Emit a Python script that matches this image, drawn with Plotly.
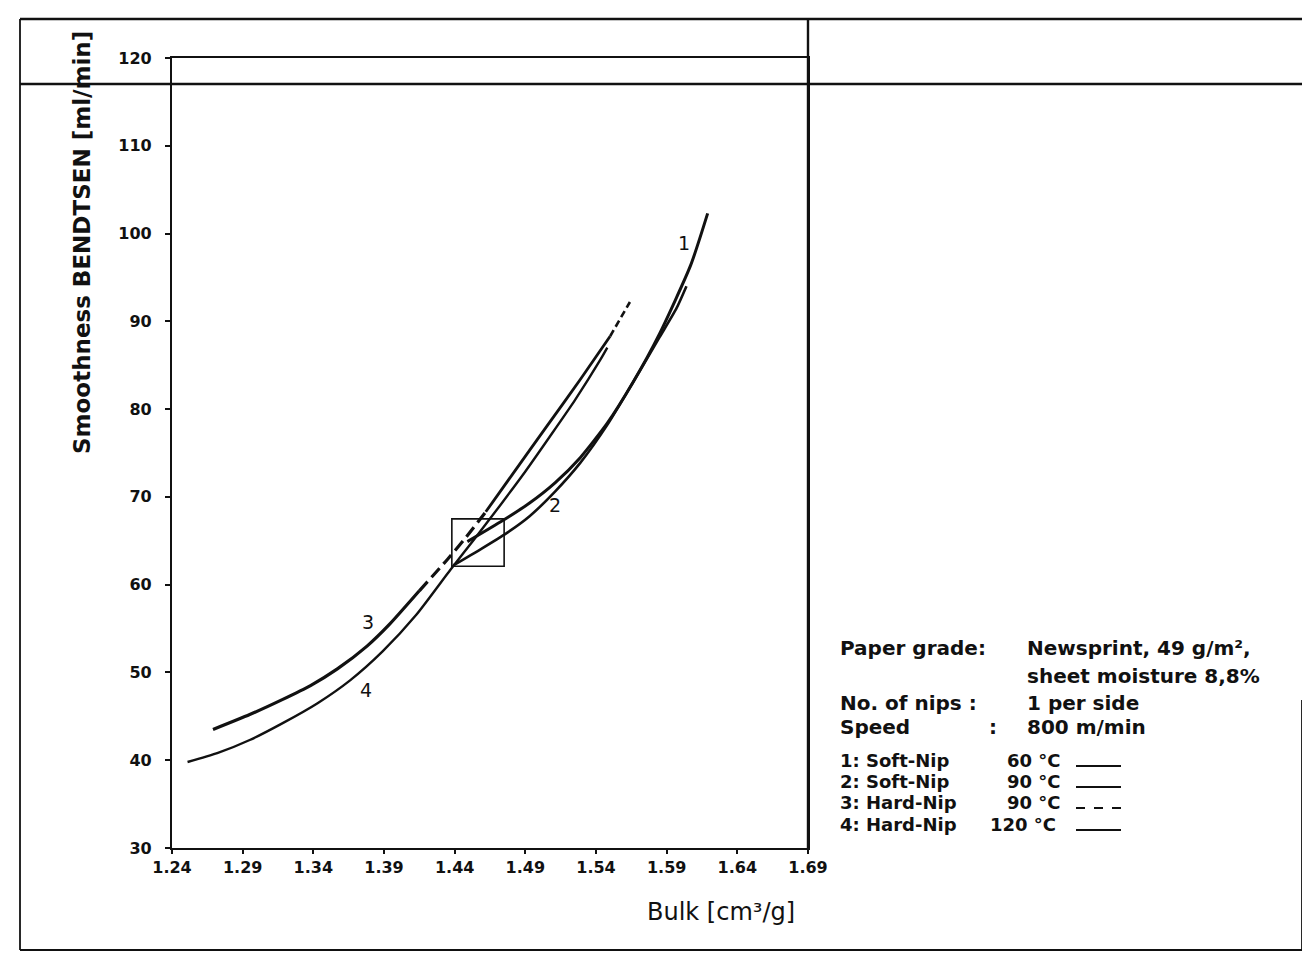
import plotly.graph_objects as go

# ---------------- data ----------------
x_ticks = [1.24, 1.29, 1.34, 1.39, 1.44, 1.49, 1.54, 1.59, 1.64, 1.69]
y_ticks = [30, 40, 50, 60, 70, 80, 90, 100, 110, 120]

# 1: Soft-Nip 60 °C
bulk_1 = [1.449, 1.474, 1.493, 1.511, 1.529, 1.548, 1.566, 1.585, 1.607, 1.619]
smooth_1 = [64.9, 67.3, 69.3, 71.6, 74.5, 78.4, 83.0, 88.6, 96.4, 102.3]

# 2: Soft-Nip 90 °C
bulk_2 = [1.439, 1.458, 1.477, 1.493, 1.511, 1.529, 1.548, 1.566, 1.585, 1.597, 1.604]
smooth_2 = [62.2, 64.0, 65.9, 67.8, 70.6, 73.9, 78.2, 83.0, 88.2, 91.5, 94.0]

# 3: Hard-Nip 90 °C
bulk_3 = [1.269, 1.295, 1.318, 1.338, 1.357, 1.378, 1.394, 1.415, 1.435,
          1.448, 1.462, 1.481, 1.505, 1.529, 1.550, 1.564]
smooth_3 = [43.5, 45.2, 46.9, 48.5, 50.4, 53.0, 55.5, 59.3, 62.9,
            65.4, 68.3, 72.6, 78.0, 83.4, 88.3, 92.2]

# 4: Hard-Nip 120 °C
bulk_4 = [1.251, 1.272, 1.295, 1.318, 1.343, 1.366, 1.389, 1.413, 1.437,
          1.454, 1.472, 1.490, 1.507, 1.525, 1.543, 1.548]
smooth_4 = [39.8, 40.8, 42.3, 44.2, 46.5, 49.1, 52.4, 56.6, 61.7,
            65.2, 69.0, 72.9, 76.8, 81.0, 85.6, 87.0]

curve_names = ["1", "2", "3", "4"]
label_bulk = [1.602, 1.511, 1.379, 1.377]
label_smooth = [98.9, 69.1, 55.7, 48.0]

box_bulk = [1.438, 1.475]
box_smooth = [62.1, 67.5]

# ---------------- layout helpers ----------------
OFF = 8                      # page body margin of the html page
W, H = 1310 - OFF, 964 - OFF
L, R, T, B = 172, 808, 58, 848   # plot area in screen pixels


def px(xpix):
    return (xpix - L) / (R - L)


def py(ypix):
    return (B - ypix) / (B - T)


INK = "#111111"
FONT = "DejaVu Sans, Verdana, sans-serif"

fig = go.Figure()

widths = [3.0, 2.6, 3.2, 2.4]
series = [(bulk_1, smooth_1), (bulk_2, smooth_2), (bulk_3, smooth_3), (bulk_4, smooth_4)]


def add_line(xs, ys, w, dash="solid"):
    fig.add_trace(go.Scatter(
        x=xs, y=ys, mode="lines", showlegend=False,
        line=dict(color=INK, width=w, dash=dash, shape="spline", smoothing=0.6),
        hoverinfo="skip"))


# curves 1, 2, 4 solid
for i in (0, 1, 3):
    add_line(series[i][0], series[i][1], widths[i])

# curve 3: mostly solid with dashed stretches (as printed)
add_line(bulk_3[:8], smooth_3[:8], widths[2])
add_line(bulk_3[7:11], smooth_3[7:11], widths[2], "12px,6px")
add_line(bulk_3[10:15], smooth_3[10:15], widths[2] - 0.4)
add_line(bulk_3[14:], smooth_3[14:], widths[2] - 0.6, "7px,4px")

for name, xv, yv in zip(curve_names, label_bulk, label_smooth):
    fig.add_annotation(x=xv, y=yv, text=name, showarrow=False,
                       font=dict(family=FONT, size=19, color=INK))

# rectangle around operating point
fig.add_shape(type="rect", xref="x", yref="y",
              x0=box_bulk[0], x1=box_bulk[1], y0=box_smooth[0], y1=box_smooth[1],
              line=dict(color=INK, width=1.6))

# ---------------- frame lines (scanned page border) ----------------
def hline(y, x0, x1, w=2.2):
    fig.add_shape(type="line", xref="paper", yref="paper",
                  x0=px(x0), x1=px(x1), y0=py(y), y1=py(y),
                  line=dict(color=INK, width=w))


def vline(x, y0, y1, w=2.2):
    fig.add_shape(type="line", xref="paper", yref="paper",
                  x0=px(x), x1=px(x), y0=py(y0), y1=py(y1),
                  line=dict(color=INK, width=w))


hline(19, 20, 1312, 2.4)
hline(84, 20, 1312, 2.4)
hline(950, 20, 1312, 2.2)
vline(20, 19, 950, 1.8)
vline(808, 19, 848, 2.4)
vline(1302, 700, 950, 1.8)

# ---------------- axis titles ----------------
fig.add_annotation(xref="paper", yref="paper", x=px(82), y=py(243),
                   xanchor="center", yanchor="middle",
                   text="Smoothness BENDTSEN [ml/min]", textangle=-90, showarrow=False,
                   font=dict(family=FONT, size=23, color=INK, weight="bold"))
fig.add_annotation(xref="paper", yref="paper", x=px(797), y=py(912),
                   xanchor="right", yanchor="middle", text="Bulk [cm³/g]", showarrow=False,
                   font=dict(family=FONT, size=24, color=INK))

# ---------------- info block ----------------
def txt(x, y, s, size=20):
    fig.add_annotation(xref="paper", yref="paper", x=px(x), y=py(y), xanchor="left",
                       yanchor="middle", text=s, showarrow=False,
                       font=dict(family=FONT, size=size, color=INK, weight="bold"))


txt(838, 648, "Paper grade:")
txt(1025, 648, "Newsprint, 49 g/m²,")
txt(1025, 676, "sheet moisture 8,8%")
txt(838, 703, "No. of nips :")
txt(1025, 703, "1 per side")
txt(838, 727, "Speed")
txt(987, 727, ":")
txt(1025, 727, "800 m/min")

leg_rows = [760, 781, 802, 824]
leg_names = ["1: Soft-Nip", "2: Soft-Nip", "3: Hard-Nip", "4: Hard-Nip"]
leg_temps = ["60 °C", "90 °C", "90 °C", "120 °C"]
leg_temp_x = [1005, 1005, 1005, 988]
leg_dash = ["solid", "solid", "dash", "solid"]
for yrow, nm, tp, tx, dsh in zip(leg_rows, leg_names, leg_temps, leg_temp_x, leg_dash):
    txt(838, yrow, nm, 18)
    txt(tx, yrow, tp, 18)
    fig.add_shape(type="line", xref="paper", yref="paper",
                  x0=px(1076), x1=px(1121), y0=py(yrow + 6), y1=py(yrow + 6),
                  line=dict(color=INK, width=1.8, dash=dsh))

# ---------------- axes ----------------
tick_font = dict(family=FONT, size=16, color=INK, weight="bold")
fig.update_xaxes(range=[1.24, 1.69], tickvals=x_ticks,
                 ticktext=[f"{v:.2f}" for v in x_ticks],
                 showgrid=False, zeroline=False, showline=True, linecolor=INK, linewidth=2.2,
                 mirror=True, ticks="outside", ticklen=4, tickwidth=1.5, tickcolor=INK,
                 ticklabelstandoff=0, tickfont=tick_font)
fig.update_yaxes(range=[30, 120], tickvals=y_ticks,
                 showgrid=False, zeroline=False, showline=True, linecolor=INK, linewidth=2.2,
                 mirror=True, ticks="outside", ticklen=5, tickwidth=1.5, tickcolor=INK,
                 ticklabelstandoff=10, tickfont=tick_font)

fig.update_layout(width=W, height=H,
                  margin=dict(l=L - OFF, r=W - (R - OFF), t=T - OFF, b=H - (B - OFF), pad=0),
                  paper_bgcolor="white", plot_bgcolor="white",
                  showlegend=False)

fig.write_html("out.html")
